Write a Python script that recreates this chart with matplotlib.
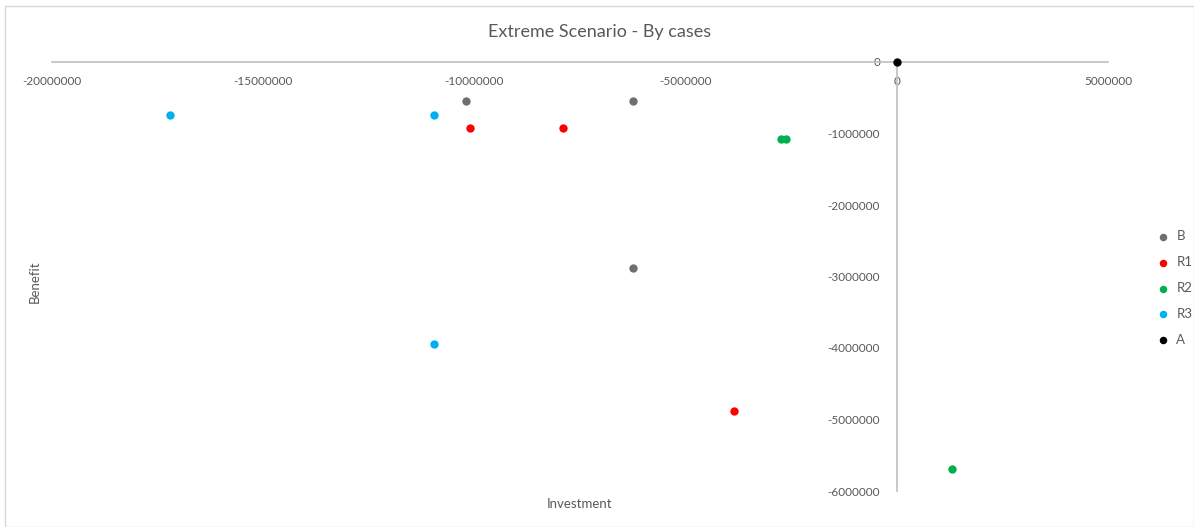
import matplotlib
matplotlib.use("Agg")
import matplotlib.pyplot as plt
from matplotlib.patches import Rectangle

# scenario points: investment (x) vs benefit (y)
series = ["B", "R1", "R2", "R3", "A"]
colors = ["#6f6f6f", "#ff0000", "#00b050", "#00b0f0", "#000000"]
invest = {
    "B": [-10200000, -6250000, -6250000],
    "R1": [-10100000, -7900000, -3850000],
    "R2": [-2750000, -2620000, 1300000],
    "R3": [-17200000, -10950000, -10950000],
    "A": [0],
}
benefit = {
    "B": [-550000, -550000, -2880000],
    "R1": [-920000, -920000, -4880000],
    "R2": [-1080000, -1080000, -5690000],
    "R3": [-740000, -740000, -3940000],
    "A": [0],
}
xticks = [-20000000, -15000000, -10000000, -5000000, 0, 5000000]
yticks = [0, -1000000, -2000000, -3000000, -4000000, -5000000, -6000000]

plt.rcParams["font.family"] = ["Lato", "DejaVu Sans"]
txt = "#595959"
axcol = "#bfbfbf"

W, H = 1194, 527
fig = plt.figure(figsize=(W / 100, H / 100), dpi=100)
fig.patches.append(Rectangle((5 / W, 0), 1 - 5 / W, 1 - 6 / H, transform=fig.transFigure,
                             fill=False, edgecolor="#d9d9d9", linewidth=1))

ax = fig.add_axes([52 / W, 1 - 491 / H, (1108 - 52) / W, (491 - 62) / H])
for s, c in zip(series, colors):
    ax.scatter(invest[s], benefit[s], s=36, color=c, label=s, zorder=3, clip_on=False,
               linewidths=0)

ax.set_xlim(-20000000, 5000000)
ax.set_ylim(-6000000, 0)
ax.set_xticks(xticks)
ax.set_yticks(yticks)
ax.set_xticklabels([str(v) for v in xticks])
ax.set_yticklabels([str(v) for v in yticks])
ax.spines["top"].set_visible(False)
ax.spines["right"].set_visible(False)
ax.spines["bottom"].set_position(("data", 0))
ax.spines["left"].set_position(("data", 0))
for sp in ("bottom", "left"):
    ax.spines[sp].set_color(axcol)
    ax.spines[sp].set_linewidth(1.2)
ax.tick_params(length=0, colors=txt, labelsize=8.5)
ax.tick_params(axis="x", pad=10)
ax.tick_params(axis="y", pad=12)

fig.text(600 / W, 1 - 32 / H, "Extreme Scenario - By cases", ha="center", va="center",
         fontsize=13, color=txt)
fig.text(580 / W, 1 - 504 / H, "Investment", ha="center", va="center", fontsize=9.5, color=txt)
fig.text(35 / W, 1 - 282 / H, "Benefit", ha="center", va="center", rotation=90,
         fontsize=9.5, color=txt)

leg = fig.legend(loc="center left", bbox_to_anchor=(1150 / W, 1 - 288 / H), frameon=False,
                 handletextpad=0.0, labelspacing=1.05, fontsize=9.5, markerscale=0.9,
                 borderaxespad=0, borderpad=0)
for t in leg.get_texts():
    t.set_color(txt)

fig.savefig("out.png", dpi=100)
